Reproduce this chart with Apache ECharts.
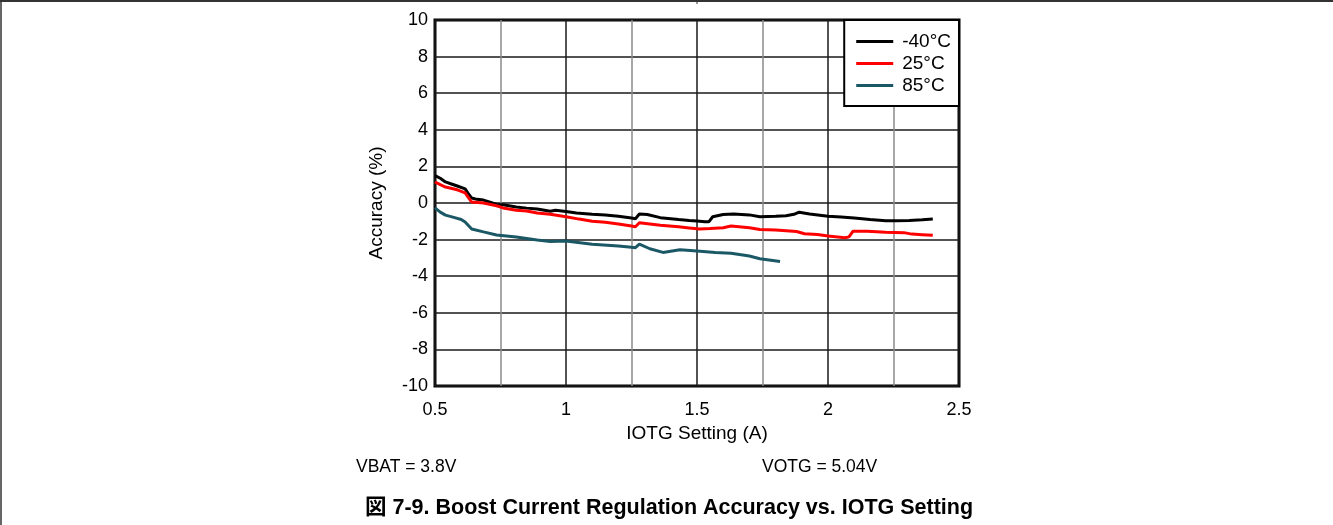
<!DOCTYPE html>
<html>
<head>
<meta charset="utf-8">
<script src="https://cdn.jsdelivr.net/npm/echarts@6/dist/echarts.min.js"></script>
<style>
html,body{margin:0;padding:0;background:#fff;}
#c{width:1333px;height:525px;}
</style>
</head>
<body>
<div id="c"></div>
<script>
// ---- data ----
const seriesNames = ['-40°C', '25°C', '85°C'];
const xTicks = [0.5, 1, 1.5, 2, 2.5];
const yTicks = [-10, -8, -6, -4, -2, 0, 2, 4, 6, 8, 10];

const xM40 = [0.5, 0.52, 0.54, 0.56, 0.585, 0.615, 0.625, 0.64, 0.66, 0.685, 0.71, 0.735, 0.76, 0.81, 0.85, 0.89, 0.94, 0.96, 1.0, 1.04, 1.1, 1.15, 1.2, 1.25, 1.265, 1.28, 1.31, 1.36, 1.43, 1.47, 1.5, 1.53, 1.545, 1.56, 1.6, 1.64, 1.7, 1.74, 1.8, 1.84, 1.87, 1.89, 1.93, 2.0, 2.05, 2.1, 2.16, 2.22, 2.26, 2.31, 2.36, 2.40];
const yM40 = [1.5, 1.35, 1.15, 1.05, 0.93, 0.77, 0.55, 0.27, 0.2, 0.16, 0.05, -0.08, -0.1, -0.22, -0.28, -0.33, -0.45, -0.4, -0.47, -0.55, -0.62, -0.66, -0.73, -0.82, -0.86, -0.6, -0.63, -0.8, -0.9, -0.95, -0.98, -1.02, -1.03, -0.75, -0.63, -0.6, -0.65, -0.75, -0.73, -0.7, -0.62, -0.5, -0.6, -0.72, -0.76, -0.82, -0.9, -0.97, -0.97, -0.95, -0.92, -0.87];

const x25 = [0.5, 0.52, 0.54, 0.585, 0.615, 0.625, 0.64, 0.685, 0.735, 0.76, 0.81, 0.85, 0.89, 0.94, 1.0, 1.05, 1.1, 1.15, 1.2, 1.25, 1.265, 1.28, 1.32, 1.36, 1.43, 1.47, 1.51, 1.55, 1.6, 1.63, 1.7, 1.74, 1.8, 1.88, 1.91, 1.96, 2.0, 2.065, 2.08, 2.095, 2.15, 2.22, 2.29, 2.32, 2.36, 2.40];
const y25 = [1.15, 1.0, 0.87, 0.72, 0.55, 0.35, 0.05, 0.0, -0.15, -0.27, -0.4, -0.44, -0.55, -0.62, -0.75, -0.88, -1.0, -1.05, -1.15, -1.26, -1.3, -1.08, -1.15, -1.22, -1.3, -1.36, -1.42, -1.4, -1.35, -1.26, -1.35, -1.45, -1.48, -1.56, -1.68, -1.72, -1.8, -1.9, -1.85, -1.55, -1.55, -1.6, -1.62, -1.7, -1.73, -1.76];

const x85 = [0.5, 0.52, 0.54, 0.575, 0.6, 0.615, 0.64, 0.685, 0.735, 0.81, 0.89, 0.94, 1.0, 1.1, 1.2, 1.25, 1.265, 1.28, 1.32, 1.37, 1.435, 1.5, 1.57, 1.63, 1.7, 1.74, 1.817];
const y85 = [-0.27, -0.5, -0.66, -0.8, -0.9, -1.04, -1.42, -1.58, -1.75, -1.86, -2.02, -2.1, -2.08, -2.25, -2.35, -2.42, -2.44, -2.25, -2.5, -2.7, -2.55, -2.62, -2.7, -2.75, -2.9, -3.05, -3.2];

const colors = ['#000000', '#ff0000', '#1b5866'];
const FONT = '"Liberation Sans", Arial, "Noto Sans CJK JP", sans-serif';

function pairs(xs, ys) { return xs.map((x, i) => [x, ys[i]]); }

const chart = echarts.init(document.getElementById('c'), null, {renderer: 'canvas'});
chart.setOption({
  animation: false,
  backgroundColor: '#ffffff',
  textStyle: {fontFamily: FONT},
  grid: {left: 435, right: 374, top: 20, bottom: 139, show: true, borderColor: '#000', borderWidth: 3, containLabel: false},
  xAxis: {
    type: 'value', min: xTicks[0], max: xTicks[xTicks.length - 1], interval: 0.5,
    name: 'IOTG Setting (A)', nameLocation: 'middle', nameGap: 36,
    nameTextStyle: {fontSize: 19, color: '#000', fontFamily: FONT},
    axisLine: {show: false},
    axisTick: {show: false},
    axisLabel: {fontSize: 18, color: '#000', margin: 15, fontFamily: FONT},
    splitLine: {show: true, lineStyle: {color: '#1a1a1a', width: 1.5}},
    minorTick: {show: false, splitNumber: 2},
    minorSplitLine: {show: true, lineStyle: {color: '#8a8a8a', width: 1.5}}
  },
  yAxis: {
    type: 'value', min: yTicks[0], max: yTicks[yTicks.length - 1], interval: 2,
    name: 'Accuracy (%)', nameLocation: 'middle', nameGap: 49, nameRotate: 90,
    nameTextStyle: {fontSize: 19, color: '#000', fontFamily: FONT},
    axisLine: {show: false},
    axisTick: {show: false},
    axisLabel: {fontSize: 18, color: '#000', margin: 7, fontFamily: FONT},
    splitLine: {show: true, lineStyle: {color: '#1a1a1a', width: 1.5}}
  },
  legend: {
    data: seriesNames,
    orient: 'vertical',
    right: 374, top: 20,
    backgroundColor: '#fff',
    borderColor: '#000', borderWidth: 2,
    padding: [12, 8, 11, 12],
    itemGap: 3,
    itemWidth: 37, itemHeight: 3,
    icon: 'rect',
    textStyle: {fontSize: 19, color: '#000', fontFamily: FONT, padding: [0, 0, 0, 4]},
    z: 10
  },
  series: [
    {name: seriesNames[0], type: 'line', data: pairs(xM40, yM40), showSymbol: false, lineStyle: {color: colors[0], width: 3}, itemStyle: {color: colors[0]}},
    {name: seriesNames[1], type: 'line', data: pairs(x25, y25), showSymbol: false, lineStyle: {color: colors[1], width: 3}, itemStyle: {color: colors[1]}},
    {name: seriesNames[2], type: 'line', data: pairs(x85, y85), showSymbol: false, lineStyle: {color: colors[2], width: 3}, itemStyle: {color: colors[2]}}
  ],
  graphic: [
    {type: 'line', shape: {x1: 0, y1: 1, x2: 1333, y2: 1}, style: {stroke: '#333', lineWidth: 2}},
    {type: 'line', shape: {x1: 1, y1: 0, x2: 1, y2: 525}, style: {stroke: '#333', lineWidth: 1.5}},
    {type: 'line', shape: {x1: 697, y1: 0, x2: 697, y2: 4}, style: {stroke: '#333', lineWidth: 1}},
    {type: 'text', left: 356, top: 458, style: {text: 'VBAT = 3.8V', font: '17.5px ' + FONT, fill: '#000'}},
    {type: 'text', left: 762, top: 458, style: {text: 'VOTG = 5.04V', font: '17.5px ' + FONT, fill: '#000'}},
    {type: 'text', left: 365, top: 497, style: {text: '図 7-9. Boost Current Regulation Accuracy vs. IOTG Setting', font: 'bold 21.5px ' + FONT, fill: '#000'}}
  ]
});
</script>
</body>
</html>
